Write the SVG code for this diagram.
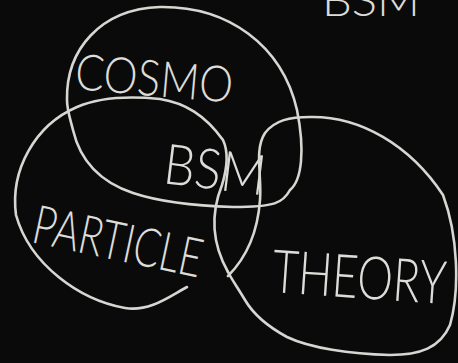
<svg xmlns="http://www.w3.org/2000/svg" width="458" height="363" viewBox="0 0 458 363">
<style>
.bg{fill:#0a0a0a}
.chalk{fill:none;stroke:#d6d6d2;stroke-width:2.6;stroke-linecap:round;stroke-linejoin:round}
.t{fill:#dcdcd8;font-family:Lato,"Open Sans","DejaVu Sans",sans-serif;font-weight:300}
</style>
<rect class="bg" width="458" height="363"/>
<g id="connectors"></g>
<g id="cosmo">
<path class="chalk" d="M67,100 C66,50 100,9 160,7 C228,6 282,45 297,110 C305,150 302,180 290,190 C283,203 275,207 233,207 C200,206 160,202 133,193 C100,182 80,160 73,130 C70,118 67,110 67,100"/>
<text class="t" x="74" y="89" font-size="50" textLength="158" lengthAdjust="spacingAndGlyphs" transform="rotate(5 74 89)">COSMO</text>
</g>
<g id="particle">
<path class="chalk" d="M187,287 C170,296 150,312 125,308 C80,300 30,265 16,215 C10,170 35,125 77,107 C100,97 130,96 160,99 C185,103 205,115 223,140 C230,155 226,172 222,185 C212,210 210,240 228,272"/>
<text class="t" x="30" y="242" font-size="54" textLength="172" lengthAdjust="spacingAndGlyphs" transform="rotate(12 30 242)">PARTICLE</text>
</g>
<g id="bsm">
<text class="t" x="162" y="183" font-size="56" textLength="102" lengthAdjust="spacingAndGlyphs" transform="rotate(7 162 183)">BSM</text>
</g>
<g id="theory">
<path class="chalk" d="M228,276 C248,256 258,228 260,200 C262,175 254,150 265,133 C275,120 290,117 310,117 C360,116 410,145 443,195 C458,235 460,290 450,325 C440,348 420,355 390,355 C350,354 310,348 287,337 C265,325 252,312 245,300 C238,288 232,280 228,272"/>
<text class="t" x="271" y="292" font-size="60" textLength="174" lengthAdjust="spacingAndGlyphs" transform="rotate(4 271 292)">THEORY</text>
</g>
<g id="top-note">
<text class="t" x="322" y="16" font-size="44" textLength="98" lengthAdjust="spacingAndGlyphs">BSM</text>
</g>
</svg>
